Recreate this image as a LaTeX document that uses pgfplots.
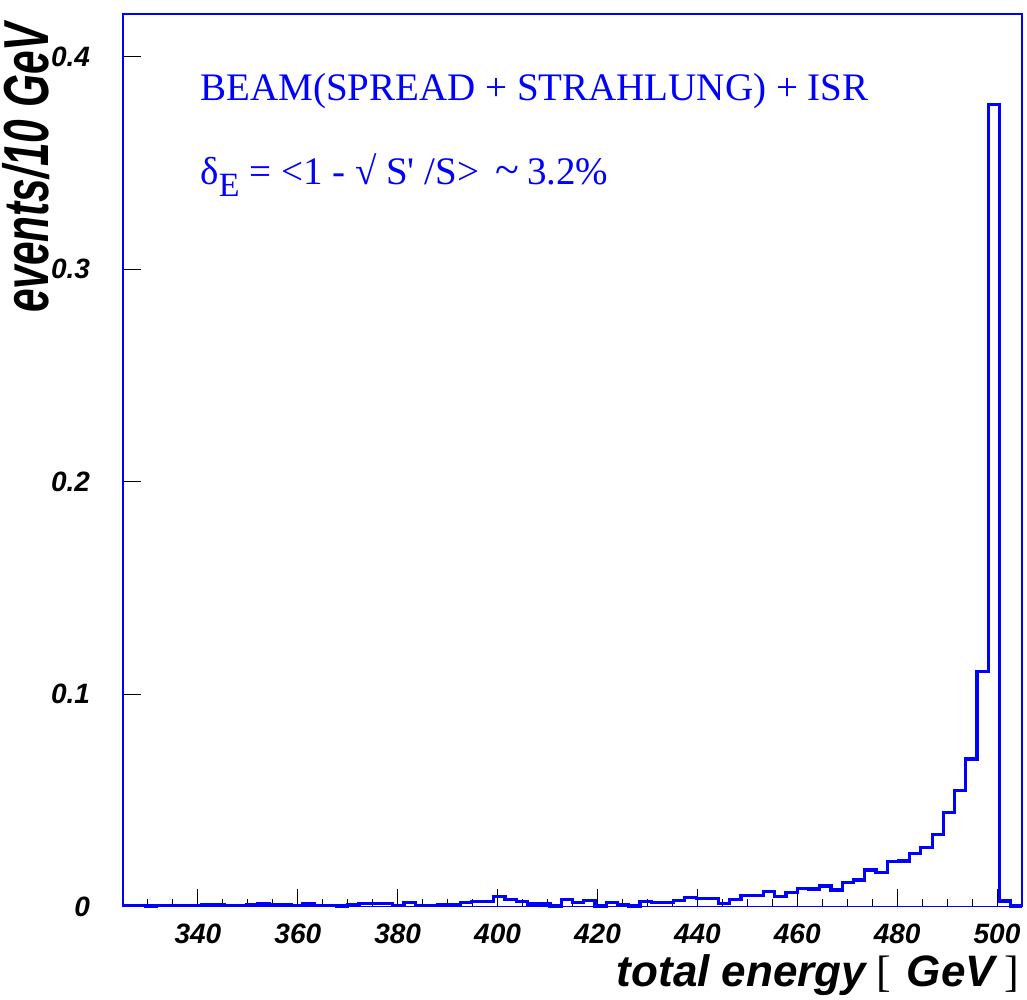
\documentclass[border=0pt]{standalone}
\usepackage{fontspec}
\setmainfont{Liberation Serif}
\setsansfont{Liberation Sans}
\usepackage{graphicx}
\usepackage{pgfplots}
\pgfplotsset{compat=1.18}
\definecolor{rblue}{RGB}{0,0,255}

\begin{document}
\begin{tikzpicture}
\begin{axis}[
  scale only axis, width=449.5pt, height=446.35pt,
  xmin=325, xmax=505, ymin=0, ymax=0.42,
  axis line style={rblue, line width=0.6pt},
  xtick={340,360,...,500},
  minor xtick={330,335,...,500},
  ytick={0,0.1,0.2,0.3,0.4},
  tick align=inside, xtick pos=bottom, ytick pos=left,
  major tick length=9pt, minor tick length=4pt,
  tick style={black, line width=0.5pt},
  /pgf/number format/assume math mode=true,
  ticklabel style={font=\sffamily\bfseries\itshape\fontsize{14}{16}\selectfont},
  xticklabel style={yshift=-5pt},
  yticklabel style={xshift=-13pt, /pgf/number format/fixed},
  clip=false,
]
\addplot[const plot, rblue, line width=1.6pt, line join=miter] coordinates {
(325,0.0004) (327.25,0.0004) (329.5,0.0003) (331.75,0.0004) (334,0.0004)
(336.25,0.0004) (338.5,0.0004) (340.75,0.0011) (343,0.0008) (345.25,0.0005)
(347.5,0.0005) (349.75,0.0008) (352,0.0013) (354.25,0.0011) (356.5,0.0011)
(358.75,0.0005) (361,0.0013) (363.25,0.0005) (365.5,0.0005) (367.75,0.0003)
(370,0.0008) (372.25,0.0016) (374.5,0.0016) (376.75,0.0016) (379,0.0005)
(381.25,0.0018) (383.5,0.0005) (385.75,0.0005) (388,0.0008) (390.25,0.0008)
(392.5,0.0019) (394.75,0.0024) (397,0.0024) (399.25,0.0047) (401.5,0.0035)
(403.75,0.0024) (406,0.0013) (408.25,0.0013) (410.5,0.0003) (412.75,0.0035)
(415,0.0019) (417.25,0.0028) (419.5,0.0003) (421.75,0.0019) (424,0.0011)
(426.25,0.0003) (428.5,0.0024) (430.75,0.0019) (433,0.0019) (435.25,0.0031)
(437.5,0.0042) (439.75,0.0039) (442,0.0040) (444.25,0.0016) (446.5,0.0035)
(448.75,0.0052) (451,0.0052) (453.25,0.0071) (455.5,0.0047) (457.75,0.0068)
(460,0.0087) (462.25,0.0083) (464.5,0.0097) (466.75,0.0079) (469,0.0113)
(471.25,0.0126) (473.5,0.0173) (475.75,0.0162) (478,0.0212) (480.25,0.0215)
(482.5,0.0251) (484.75,0.0278) (487,0.0341) (489.25,0.0442) (491.5,0.0545)
(493.75,0.0695) (496,0.1106) (498.25,0.3773) (500.5,0.0027) (502.75,0.0003)
(505,0.0003)
};
\coordinate (sw) at (rel axis cs:0,0);
\coordinate (ne) at (rel axis cs:1,1);
\coordinate (tl) at (rel axis cs:0,1);
\coordinate (br) at (rel axis cs:1,0);
\node[anchor=base west, text=rblue, inner sep=0, font=\fontsize{19.5}{22}\selectfont]
  at (rel axis cs:0.0857,0.9034) {BEAM(SPREAD + STRAHLUNG) + ISR};
\node[anchor=base west, text=rblue, inner sep=0, font=\fontsize{19.5}{22}\selectfont]
  at (rel axis cs:0.0857,0.8085) {δ\raisebox{-6pt}{\fontsize{17}{17}\selectfont E} = <1 - √ S\textquotesingle\ /S>\hspace{8pt}{\fontsize{22}{22}\selectfont\textasciitilde}\hspace{4pt}3.2\%};
\end{axis}
\node[anchor=base east, inner sep=0] at ([shift={(-1pt,-40pt)}]br)
  {\fontsize{22}{24}\selectfont\sffamily\bfseries\itshape total energy\hspace{5pt}\rmfamily\mdseries\upshape[\hspace{8pt}\sffamily\bfseries\itshape GeV\hspace{5pt}\rmfamily\mdseries\upshape]};
\node[rotate=90, anchor=base, inner sep=0, outer sep=0pt, font=\sffamily\bfseries\itshape\fontsize{21.2}{24}\selectfont]
  at ([shift={(-37pt,-77pt)}]tl) {\scalebox{1}[1.5]{events/10 GeV}};
\pgfresetboundingbox
\path[use as bounding box] ([shift={(-61.5pt,-46.65pt)}]sw) rectangle ([shift={(2.5pt,7pt)}]ne);
\end{tikzpicture}
\end{document}
